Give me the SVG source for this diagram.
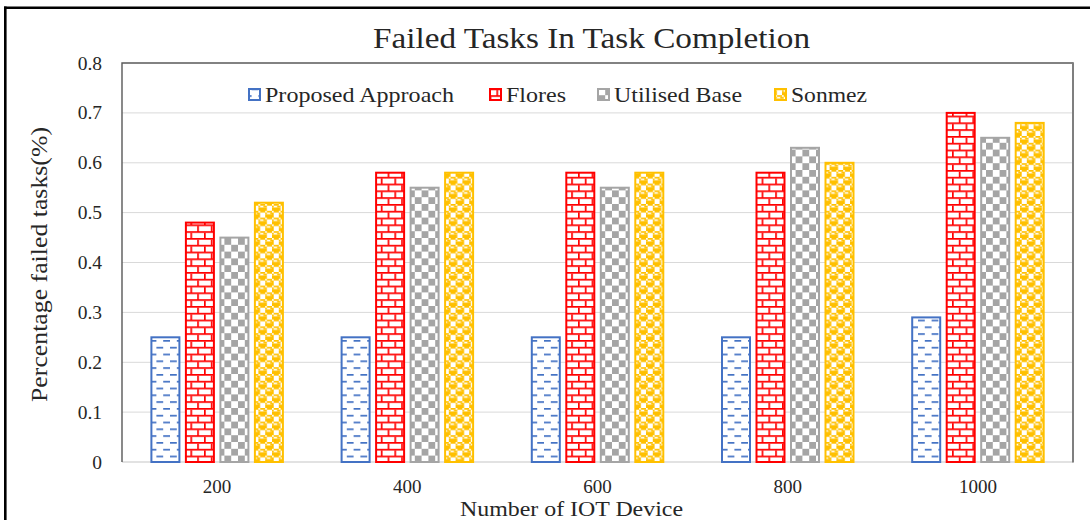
<svg xmlns="http://www.w3.org/2000/svg" width="1090" height="520" viewBox="0 0 1090 520">
  <style>
    text { font-family: "Liberation Serif", "Times New Roman", serif; fill: #262626; }
    .tick { font-size: 19.5px; }
    .ytick { text-anchor: end; }
    .xtick { text-anchor: middle; font-size: 19px; }
    .legend { font-size: 22px; }
    .grid { stroke: #d9d9d9; stroke-width: 1; }
    .blue { fill: url(#dashH); stroke: #4472c4; stroke-width: 2; }
    .red { fill: url(#brick); stroke: #ff0000; stroke-width: 2; }
    .gray { fill: url(#checker); stroke: #a5a5a5; stroke-width: 2; }
    .gold { fill: url(#sphere); stroke: #ffc000; stroke-width: 2; }
  </style>
  <defs>
    <!-- dashed horizontal hatch -->
    <pattern id="dashH" patternUnits="userSpaceOnUse" width="8" height="8" patternTransform="scale(1.7)">
      <rect width="8" height="8" fill="#ffffff"/>
      <rect x="0" y="0" width="4" height="1" fill="#4472c4"/>
      <rect x="4" y="4" width="4" height="1" fill="#4472c4"/>
    </pattern>
    <!-- horizontal brick hatch -->
    <pattern id="brick" patternUnits="userSpaceOnUse" width="8" height="8" patternTransform="scale(1.7)">
      <rect width="8" height="8" fill="#ffffff"/>
      <g fill="#ff0000">
        <rect x="0" y="0" width="8" height="1"/>
        <rect x="0" y="1" width="1" height="3"/>
        <rect x="0" y="4" width="8" height="1"/>
        <rect x="4" y="5" width="1" height="3"/>
      </g>
    </pattern>
    <!-- large checkerboard hatch -->
    <pattern id="checker" patternUnits="userSpaceOnUse" width="8" height="8" patternTransform="scale(1.7)">
      <rect width="8" height="8" fill="#ffffff"/>
      <rect x="0" y="0" width="4" height="4" fill="#a5a5a5"/>
      <rect x="4" y="4" width="4" height="4" fill="#a5a5a5"/>
    </pattern>
    <!-- sphere hatch -->
    <pattern id="sphere" patternUnits="userSpaceOnUse" width="8" height="8" patternTransform="scale(1.7)">
      <rect width="8" height="8" fill="#ffffff"/>
      <g fill="#ffc000">
        <rect x="1" y="0" width="3" height="1"/><rect x="5" y="0" width="3" height="1"/>
        <rect x="0" y="1" width="1" height="1"/><rect x="3" y="1" width="2" height="1"/>
        <rect x="0" y="2" width="5" height="2"/>
        <rect x="1" y="4" width="3" height="1"/><rect x="5" y="4" width="3" height="1"/>
        <rect x="0" y="5" width="1" height="3"/><rect x="4" y="5" width="1" height="1"/><rect x="7" y="5" width="1" height="1"/>
        <rect x="4" y="6" width="4" height="2"/>
      </g>
    </pattern>
  </defs>

  <rect width="1090" height="520" fill="#ffffff"/>

  <!-- outer frame -->
  <g id="frame" fill="none">
    <line x1="5.3" y1="6.5" x2="5.3" y2="520" stroke="#000000" stroke-width="2.6"/>
    <line x1="4" y1="7.8" x2="1090" y2="7.8" stroke="#000000" stroke-width="2.6"/>
  </g>

  <!-- title -->
  <text id="title" x="591.5" y="48" text-anchor="middle" font-size="30" textLength="437" lengthAdjust="spacingAndGlyphs">Failed Tasks In Task Completion</text>

  <!-- gridlines -->
  <g id="grid">
    <line class="grid" x1="122" y1="412.1" x2="1073" y2="412.1"/>
    <line class="grid" x1="122" y1="362.3" x2="1073" y2="362.3"/>
    <line class="grid" x1="122" y1="312.4" x2="1073" y2="312.4"/>
    <line class="grid" x1="122" y1="262.5" x2="1073" y2="262.5"/>
    <line class="grid" x1="122" y1="212.6" x2="1073" y2="212.6"/>
    <line class="grid" x1="122" y1="162.8" x2="1073" y2="162.8"/>
    <line class="grid" x1="122" y1="112.9" x2="1073" y2="112.9"/>
  </g>

  <!-- plot area border -->
  <g id="plot-border" fill="none">
    <line x1="122" y1="462" x2="1073" y2="462" stroke="#d9d9d9" stroke-width="1.5"/>
    <polyline points="122,462 122,63 1073,63" stroke="#595959" stroke-width="1.4"/>
    <line x1="1073" y1="62.3" x2="1073" y2="462.5" stroke="#7f7f7f" stroke-width="2"/>
  </g>

  <!-- y axis ticks -->
  <g id="y-axis" class="tick ytick">
    <text class="tick ytick" x="102" y="468.5">0</text>
    <text class="tick ytick" x="102" y="418.6">0.1</text>
    <text class="tick ytick" x="102" y="368.8">0.2</text>
    <text class="tick ytick" x="102" y="318.9">0.3</text>
    <text class="tick ytick" x="102" y="269">0.4</text>
    <text class="tick ytick" x="102" y="219.1">0.5</text>
    <text class="tick ytick" x="102" y="169.3">0.6</text>
    <text class="tick ytick" x="102" y="119.4">0.7</text>
    <text class="tick ytick" x="102" y="69.5">0.8</text>
  </g>

  <!-- x axis ticks -->
  <g id="x-axis">
    <text class="tick xtick" x="217.1" y="493">200</text>
    <text class="tick xtick" x="407.3" y="493">400</text>
    <text class="tick xtick" x="597.5" y="493">600</text>
    <text class="tick xtick" x="787.7" y="493">800</text>
    <text class="tick xtick" x="977.9" y="493">1000</text>
  </g>

  <!-- axis titles -->
  <text id="x-title" x="571.5" y="515.5" text-anchor="middle" font-size="20.5" textLength="223" lengthAdjust="spacingAndGlyphs">Number of IOT Device</text>
  <text id="y-title" transform="translate(47,264.5) rotate(-90)" text-anchor="middle" font-size="23" textLength="275" lengthAdjust="spacingAndGlyphs">Percentage failed  tasks(%)</text>

  <!-- bars: Proposed Approach -->
  <g id="series-proposed">
    <rect class="blue" x="151.4" y="337.3" width="28" height="124.7"/>
    <rect class="blue" x="341.6" y="337.3" width="28" height="124.7"/>
    <rect class="blue" x="531.8" y="337.3" width="28" height="124.7"/>
    <rect class="blue" x="722" y="337.3" width="28" height="124.7"/>
    <rect class="blue" x="912.2" y="317.4" width="28" height="144.6"/>
  </g>
  <!-- bars: Flores -->
  <g id="series-flores">
    <rect class="red" x="185.9" y="222.6" width="28" height="239.4"/>
    <rect class="red" x="376.1" y="172.7" width="28" height="289.3"/>
    <rect class="red" x="566.3" y="172.7" width="28" height="289.3"/>
    <rect class="red" x="756.5" y="172.7" width="28" height="289.3"/>
    <rect class="red" x="946.7" y="112.9" width="28" height="349.1"/>
  </g>
  <!-- bars: Utilised Base -->
  <g id="series-utilised">
    <rect class="gray" x="220.4" y="237.6" width="28" height="224.4"/>
    <rect class="gray" x="410.6" y="187.7" width="28" height="274.3"/>
    <rect class="gray" x="600.8" y="187.7" width="28" height="274.3"/>
    <rect class="gray" x="791" y="147.8" width="28" height="314.2"/>
    <rect class="gray" x="981.2" y="137.8" width="28" height="324.2"/>
  </g>
  <!-- bars: Sonmez -->
  <g id="series-sonmez">
    <rect class="gold" x="254.9" y="202.7" width="28" height="259.3"/>
    <rect class="gold" x="445.1" y="172.7" width="28" height="289.3"/>
    <rect class="gold" x="635.3" y="172.7" width="28" height="289.3"/>
    <rect class="gold" x="825.5" y="162.8" width="28" height="299.2"/>
    <rect class="gold" x="1015.7" y="122.9" width="28" height="339.1"/>
  </g>

  <!-- legend -->
  <g id="legend">
    <g id="legend-proposed">
      <rect class="blue" x="249" y="89" width="11" height="11"/>
      <text class="legend" x="265" y="102" textLength="189" lengthAdjust="spacingAndGlyphs">Proposed Approach</text>
    </g>
    <g id="legend-flores">
      <rect class="red" x="490" y="89" width="11" height="11"/>
      <text class="legend" x="506" y="102" textLength="60" lengthAdjust="spacingAndGlyphs">Flores</text>
    </g>
    <g id="legend-utilised">
      <rect class="gray" x="598" y="89" width="11" height="11"/>
      <text class="legend" x="614" y="102" textLength="128" lengthAdjust="spacingAndGlyphs">Utilised Base</text>
    </g>
    <g id="legend-sonmez">
      <rect class="gold" x="775" y="89" width="11" height="11"/>
      <text class="legend" x="791" y="102" textLength="76" lengthAdjust="spacingAndGlyphs">Sonmez</text>
    </g>
  </g>
</svg>
